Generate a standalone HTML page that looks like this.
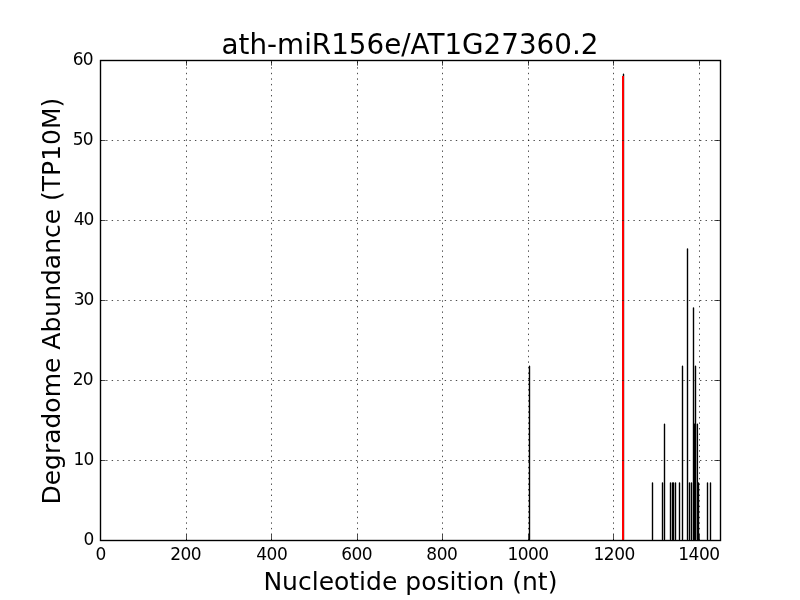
<!DOCTYPE html><html><head><meta charset="utf-8"><title>ath-miR156e/AT1G27360.2</title>
<style>html,body{margin:0;padding:0;background:#fff;}svg{display:block;will-change:transform;}text{font-family:"DejaVu Sans","Liberation Sans",sans-serif;fill:#000;}</style></head><body>
<svg width="800" height="600" viewBox="0 0 800 600">
<rect x="0" y="0" width="800" height="600" fill="#fff"/>
<path d="M529.50 539.4 V366.20 M623.50 539.4 V74.20 M652.50 539.4 V483.00 M662.50 539.4 V483.00 M664.50 539.4 V424.20 M670.50 539.4 V483.00 M672.50 539.4 V483.00 M673.50 539.4 V483.00 M675.50 539.4 V483.00 M679.50 539.4 V483.00 M682.50 539.4 V366.20 M687.50 539.4 V249.00 M689.50 539.4 V483.00 M691.50 539.4 V483.00 M693.50 539.4 V308.00 M694.50 539.4 V424.20 M695.50 539.4 V366.20 M697.40 539.4 V424.20 M698.50 539.4 V483.00 M707.50 539.4 V483.00 M710.50 539.4 V483.00" fill="none" stroke="#000" stroke-width="1.389" stroke-linecap="round"/>
<line x1="623" y1="540" x2="623" y2="76.1" stroke="#f00" stroke-width="2"/>
<path d="M186.5 540.4 L186.5 60 M271.5 540.4 L271.5 60 M357.5 540.4 L357.5 60 M442.5 540.4 L442.5 60 M528.5 540.4 L528.5 60 M613.5 540.4 L613.5 60 M699.5 540.4 L699.5 60" fill="none" stroke="#000" stroke-width="0.7" stroke-dasharray="1.388 4.162"/>
<path d="M100.6 460.5 L720 460.5 M100.6 380.5 L720 380.5 M100.6 300.5 L720 300.5 M100.6 220.5 L720 220.5 M100.6 140.5 L720 140.5" fill="none" stroke="#000" stroke-width="0.7" stroke-dasharray="1.388 4.162"/>
<path d="M100.5 540 L100.5 534.4 M100.5 60 L100.5 65.6 M186.5 540 L186.5 534.4 M186.5 60 L186.5 65.6 M271.5 540 L271.5 534.4 M271.5 60 L271.5 65.6 M357.5 540 L357.5 534.4 M357.5 60 L357.5 65.6 M442.5 540 L442.5 534.4 M442.5 60 L442.5 65.6 M528.5 540 L528.5 534.4 M528.5 60 L528.5 65.6 M613.5 540 L613.5 534.4 M613.5 60 L613.5 65.6 M699.5 540 L699.5 534.4 M699.5 60 L699.5 65.6 M100 540.5 L105.6 540.5 M720 540.5 L714.4 540.5 M100 460.5 L105.6 460.5 M720 460.5 L714.4 460.5 M100 380.5 L105.6 380.5 M720 380.5 L714.4 380.5 M100 300.5 L105.6 300.5 M720 300.5 L714.4 300.5 M100 220.5 L105.6 220.5 M720 220.5 L714.4 220.5 M100 140.5 L105.6 140.5 M720 140.5 L714.4 140.5 M100 60.5 L105.6 60.5 M720 60.5 L714.4 60.5" fill="none" stroke="#000" stroke-width="0.7"/>
<rect x="100.5" y="60.5" width="620" height="480" fill="none" stroke="#000" stroke-width="1.389"/>
<text x="100.66" y="559.5" font-size="17.0" letter-spacing="-0.5" text-anchor="middle">0</text>
<text x="185.68" y="559.5" font-size="17.0" letter-spacing="-0.5" text-anchor="middle">200</text>
<text x="271.76" y="559.5" font-size="17.0" letter-spacing="-0.5" text-anchor="middle">400</text>
<text x="356.69" y="559.5" font-size="17.0" letter-spacing="-0.5" text-anchor="middle">600</text>
<text x="441.79" y="559.5" font-size="17.0" letter-spacing="-0.5" text-anchor="middle">800</text>
<text x="528.04" y="559.5" font-size="17.0" letter-spacing="-0.5" text-anchor="middle">1000</text>
<text x="614.14" y="559.5" font-size="17.0" letter-spacing="-0.5" text-anchor="middle">1200</text>
<text x="698.94" y="559.5" font-size="17.0" letter-spacing="-0.5" text-anchor="middle">1400</text>
<text x="93.39999999999999" y="544.9" font-size="17.0" letter-spacing="-0.9" text-anchor="end">0</text>
<text x="93.39999999999999" y="464.9" font-size="17.0" letter-spacing="-0.9" text-anchor="end">10</text>
<text x="92.6" y="384.9" font-size="17.0" letter-spacing="-0.9" text-anchor="end">20</text>
<text x="93.5" y="304.9" font-size="17.0" letter-spacing="-0.9" text-anchor="end">30</text>
<text x="93.5" y="224.9" font-size="17.0" letter-spacing="-0.9" text-anchor="end">40</text>
<text x="92.6" y="144.9" font-size="17.0" letter-spacing="-0.9" text-anchor="end">50</text>
<text x="92.6" y="64.9" font-size="17.0" letter-spacing="-0.9" text-anchor="end">60</text>
<text x="410" y="53.8" font-size="27.78" text-anchor="middle">ath-miR156e/AT1G27360.2</text>
<text x="410.4" y="589.9" font-size="25" text-anchor="middle">Nucleotide position (nt)</text>
<text transform="translate(59.75 301.15) rotate(-90)" x="0" y="0" font-size="25" text-anchor="middle">Degradome Abundance (TP10M)</text>
</svg></body></html>
